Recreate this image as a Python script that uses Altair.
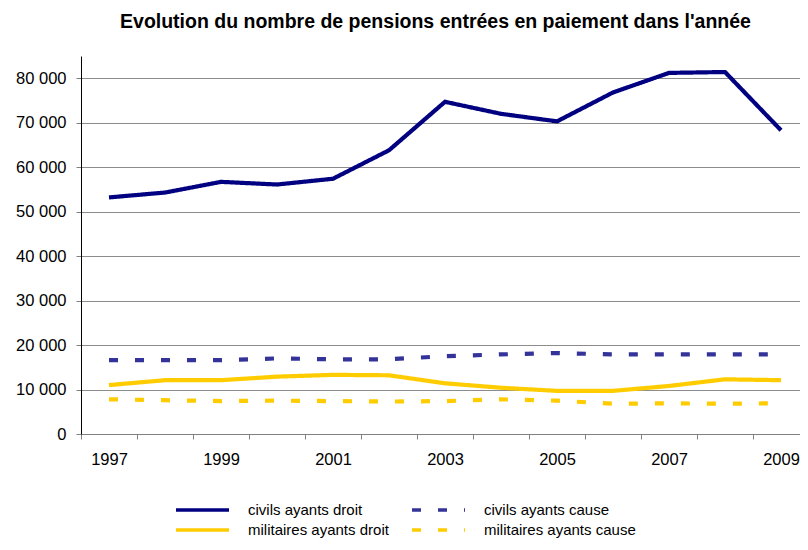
import altair as alt
import pandas as pd

years = [str(y) for y in range(1997, 2010)]
civils_droit = [53200, 54300, 56700, 56100, 57400, 63800, 74700, 72000, 70300, 76800, 81200, 81400, 68300]
civils_cause = [16600, 16600, 16600, 17000, 16800, 16800, 17500, 17900, 18200, 17900, 17900, 17900, 17900]
militaires_droit = [11000, 12100, 12100, 12900, 13300, 13200, 11400, 10400, 9700, 9700, 10800, 12300, 12100]
militaires_cause = [7800, 7600, 7400, 7500, 7400, 7300, 7400, 7800, 7500, 6800, 6900, 6800, 6900]

series_names = ["civils ayants droit", "civils ayants cause",
                "militaires ayants droit", "militaires ayants cause"]
series_values = [civils_droit, civils_cause, militaires_droit, militaires_cause]
series_colors = ["#000080", "#333399", "#FFCC00", "#FFCC00"]
series_dash = [[1, 0], [9, 17], [1, 0], [9, 17]]

rows = []
for name, vals in zip(series_names, series_values):
    for yr, v in zip(years, vals):
        rows.append({"annee": yr, "valeur": v, "serie": name})
df = pd.DataFrame(rows)

FONT = "Liberation Sans"

legend_kw = dict(orient="none", legendX=93, legendY=446, columns=2, direction="horizontal",
                 symbolType="stroke", symbolSize=2809, symbolStrokeWidth=3.3,
                 labelFontSize=15, labelFont=FONT, labelColor="#000000",
                 labelOffset=17, columnPadding=21, rowPadding=4, clipHeight=16, padding=0)

chart = alt.Chart(df).mark_line(strokeWidth=4.2, strokeCap="butt", strokeJoin="miter").encode(
    x=alt.X("annee:O", title=None,
            scale=alt.Scale(range=[0, 728], paddingInner=0, paddingOuter=0),
            axis=alt.Axis(labelAngle=0, tickBand="extent", tickSize=5, tickColor="#808080",
                          domainColor="#808080", labelFontSize=16.5, labelColor="#000000",
                          labelFont=FONT, labelPadding=12,
                          labelExpr="toNumber(datum.value) % 2 == 1 ? datum.label : ''")),
    y=alt.Y("valeur:Q", title=None,
            scale=alt.Scale(domain=[0, 85000], nice=False),
            axis=alt.Axis(values=list(range(0, 90000, 10000)), tickSize=5, tickColor="#808080",
                          domainColor="#000000", gridColor="#8c8c8c", labelFontSize=16.5,
                          labelColor="#000000", labelFont=FONT, labelPadding=10,
                          labelExpr="replace(format(datum.value, ','), ',', ' ')")),
    color=alt.Color("serie:N", title=None,
                    scale=alt.Scale(domain=series_names, range=series_colors),
                    legend=alt.Legend(**legend_kw)),
    strokeDash=alt.StrokeDash("serie:N", title=None,
                              scale=alt.Scale(domain=series_names, range=series_dash),
                              legend=alt.Legend(**legend_kw)),
).properties(
    width=719,
    height=378,
    title=alt.TitleParams("Evolution du nombre de pensions entrées en paiement dans l'année",
                          font=FONT, fontSize=19.5, fontWeight="bold", color="#000000",
                          anchor="middle", offset=24, dx=-5),
    autosize=alt.AutoSizeParams(type="none"),
    padding={"left": 73, "top": 48, "right": 0, "bottom": 104},
).configure_view(stroke=None).configure_axis(grid=False).configure_axisY(grid=True)

chart.save("out.html", embed_options={"renderer": "svg", "actions": False})
